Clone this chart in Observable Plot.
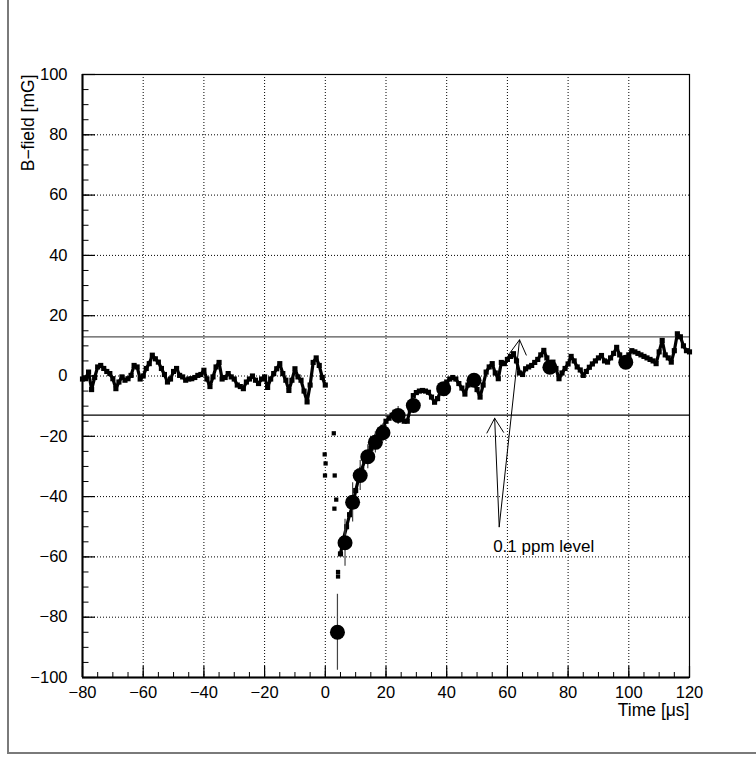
<!DOCTYPE html>
<html>
<head>
<meta charset="utf-8">
<script src="https://cdn.jsdelivr.net/npm/d3@7"></script>
<script src="https://cdn.jsdelivr.net/npm/@observablehq/plot@0.6"></script>
<style>
  html, body { margin: 0; padding: 0; background: #fff; }
  #wrap { position: relative; width: 756px; height: 757px; }
  #wrap svg { position: absolute; left: 0; top: 0; }
  #canvasframe { position: absolute; left: 7px; top: 0; width: 749px; height: 752px;
    border-left: 2px solid #7a7a7a; border-bottom: 2px solid #7a7a7a; pointer-events: none; }
</style>
</head>
<body>
<div id="wrap"><div id="canvasframe"></div></div>
<script>
// ---- Data ----
// Field monitor trace (small squares), sampled every 1 µs
const preStart = -80;   // first sample time [µs]
const preValues = [
  -1, -0.9, 1.3, -4.5, -0.5, 3, 3.5, 2.5, 1.5, 0.8,
  -0.9, -4.2, -2, -0.3, -1.4, -0.9, 0.2, 3.5, 3, -1,
  0, 2.5, 4.1, 6.9, 5.7, 4.6, 2.5, 0.5, -2, -1,
  1.5, 2.5, 0.2, -0.3, -1.4, -1, -0.9, -0.5, 0.2, 0.5,
  1.9, -1, -3.5, -0.3, 3, 4.5, -1, -0.5, 0.8, -0.3,
  -1, -3, -3.5, -4.2, -2, -1, 0, -1.4, -2.5, -1,
  -0.3, -3.8, -1, 0.8, 2.4, 4.1, 0.8, -1.4, -4.8, -1.4,
  2.4, -0.3, -1.4, -5, -8.6, -3, 4.5, 6, 3.5, -0.5,
  -3
];
const postStart = 5;
const postValues = [
  -59, -54, -50, -46, -43, -38, -34, -31, -28, -26,
  -24, -22, -20, -18, -17, -15, -14, -13, -12, -12.5,
  -14, -15, -15, -11, -6.5, -5.5, -5, -4.8, -5, -5.4,
  -7, -8.7, -7.5, -5, -3.5, -2, -1, -0.5, -1, -2.5,
  -4, -6, -3, -1, -2, -4.5, -7, -3, 1.3, 3,
  4.1, 1, -0.9, 4.5, 4.1, 5.5, 6.5, 7.4, 5, 1,
  0.5, 2.4, 3, 3.5, 4.5, 5.5, 7, 8.5, 6, 3,
  4.6, 2.5, -0.9, 1, 2.5, 4, 6.5, 5, 3, 2,
  0.2, 1.5, 2.9, 4, 5, 6, 6.8, 5, 4.6, 6,
  7.5, 9.5, 7, 5, 5.5, 7, 8.4, 8, 7.5, 7,
  6.5, 6, 5.5, 5, 4.1, 8, 11.8, 7, 6, 4.6,
  8.4, 14, 13, 10, 8.4, 8
];
// Isolated samples during the kicker pulse
const pulseTimes  = [-0.2, 0.1, -0.1, 3.1, 2.8, 3.0, 3.6, 4.2, 4.2];
const pulseValues = [-26, -29, -33, -33, -19, -44, -41, -65, -66.5];

// Averaged points (large circles) with error bars
const avgTimes  = [4, 6.5, 9, 11.5, 14, 16.5, 19, 24, 29, 39, 49, 74, 99];
const avgValues = [-85, -55.3, -41.9, -33, -26.8, -22, -18.8, -13.1, -9.8, -4.2, -1.4, 2.9, 4.6];
const avgErrors = [12.6, 7.8, 6.5, 5, 4, 3.5, 3, 3, 2.5, 2, 2, 2, 2];

// 0.1 ppm level
const ppmLevels = [13, -13];
const arrowFrom = [57.3, -50];
const arrowTips = [[55.8, -14], [64, 12]];
const annotation = {text: "0.1 ppm level", x: 55.3, y: -56.5};

// Axes
const xTicks = [-80, -60, -40, -20, 0, 20, 40, 60, 80, 100, 120];
const yTicks = [-100, -80, -60, -40, -20, 0, 20, 40, 60, 80, 100];
const xMinor = d3.range(-80, 121, 5);
const yMinor = d3.range(-100, 101, 5);
const xLabel = "Time [μs]";
const yLabel = "B−field [mG]";

// ---- Build tables ----
const pre = preValues.map((v, i) => ({t: preStart + i, v}));
const post = postValues.map((v, i) => ({t: postStart + i, v}));
const pulse = pulseTimes.map((t, i) => ({t, v: pulseValues[i]}));
const avg = avgTimes.map((t, i) => ({t, v: avgValues[i], e: avgErrors[i]}));
const arrows = arrowTips.map(([x2, y2]) => ({x1: arrowFrom[0], y1: arrowFrom[1], x2, y2}));

const W = 756, H = 757;
const mL = 82, mR = 67, mT = 74, mB = 80;
const pw = W - mL - mR, ph = H - mT - mB;
const fmt = d => d < 0 ? "\u2212" + Math.abs(d) : String(d);

const chart = Plot.plot({
  width: W, height: H,
  marginLeft: mL, marginRight: mR, marginTop: mT, marginBottom: mB,
  x: {domain: [-80, 120]},
  y: {domain: [-100, 100]},
  style: {fontFamily: "'Liberation Sans', Arial, Helvetica, sans-serif", fontSize: "16px", background: "transparent", color: "black"},
  marks: [
    Plot.gridX(xTicks, {stroke: "black", strokeOpacity: 1, strokeDasharray: "1,2"}),
    Plot.gridY(yTicks, {stroke: "black", strokeOpacity: 1, strokeDasharray: "1,2"}),
    Plot.ruleY(ppmLevels, {stroke: (d) => d > 0 ? "#555" : "black", strokeWidth: 1.3}),
    // trace
    Plot.line(pre, {x: "t", y: "v", stroke: "black", strokeWidth: 3.2}),
    Plot.dot(pre, {x: "t", y: "v", symbol: "square", r: 2.9, fill: "black"}),
    Plot.line(post, {x: "t", y: "v", stroke: "black", strokeWidth: 3.2}),
    Plot.dot(post, {x: "t", y: "v", symbol: "square", r: 2.9, fill: "black"}),
    Plot.dot(pulse, {x: "t", y: "v", symbol: "square", r: 2.4, fill: "black"}),
    // averaged points
    Plot.ruleX(avg, {x: "t", y1: d => d.v - d.e, y2: d => d.v + d.e, stroke: "#444", strokeWidth: 1.2}),
    Plot.dot(avg, {x: "t", y: "v", r: 7.5, fill: "black"}),
    // annotation
    Plot.arrow(arrows, {x1: "x1", y1: "y1", x2: "x2", y2: "y2", stroke: "black", strokeWidth: 1, headLength: 25, headAngle: 60}),
    Plot.text([annotation], {x: "x", y: "y", text: "text", textAnchor: "start", fontSize: 17}),
    // ticks (inside, ROOT style)
    Plot.tickX(xMinor, {x: d => d, insetTop: ph - 5, strokeWidth: 1}),
    Plot.tickX(xTicks, {x: d => d, insetTop: ph - 11, strokeWidth: 1.2}),
    Plot.tickY(yMinor, {y: d => d, insetRight: pw - 6.5, strokeWidth: 1}),
    Plot.tickY(yTicks, {y: d => d, insetRight: pw - 13, strokeWidth: 1.2}),
    Plot.frame({stroke: "black", strokeWidth: 1.2}),
    Plot.ruleX([-80], {stroke: "black", strokeWidth: 2}),
    Plot.ruleY([-100], {stroke: "black", strokeWidth: 2}),
    Plot.axisX(xTicks, {tickSize: 0, tickPadding: 9, tickFormat: fmt, fontSize: 16.5, label: null}),
    Plot.axisY(yTicks, {tickSize: 0, tickPadding: 15, tickFormat: fmt, fontSize: 16.5, label: null}),
    Plot.text([xLabel], {frameAnchor: "bottom-right", dy: 38, textAnchor: "end", fontSize: 17.5}),
    Plot.text([yLabel], {frameAnchor: "top-left", dx: -61, rotate: -90, textAnchor: "end", fontSize: 17.5})
  ]
});
document.getElementById("wrap").prepend(chart);
</script>
</body>
</html>
